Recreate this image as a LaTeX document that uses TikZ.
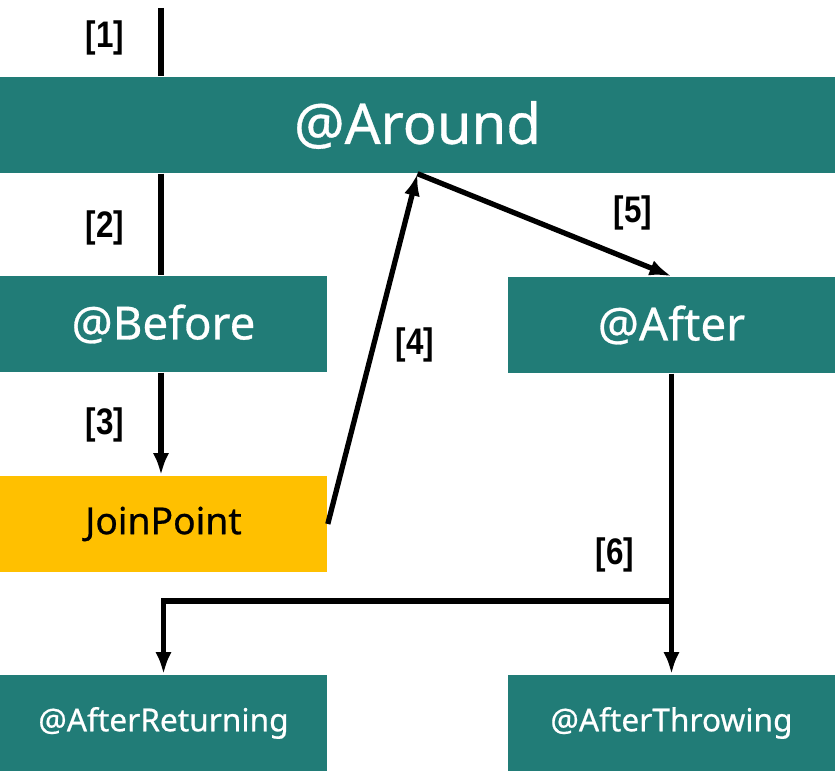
\documentclass[tikz,border=0pt]{standalone}
\usepackage{fontspec}
\setmainfont{Noto Sans}[FakeBold=0.6]
\newfontfamily\labelfont{Liberation Sans}[FakeStretch=0.85]
\usetikzlibrary{positioning, arrows.meta}
\definecolor{TealA}{HTML}{217C77}
\definecolor{GoldA}{HTML}{FFC000}
\tikzset{
  bx/.style={rectangle, inner sep=0pt, minimum width=3.27cm, minimum height=0.96cm,
             text=white, fill=TealA},
  adv/.style={bx, font=\fontsize{13}{15}\selectfont},
  jp/.style={bx, fill=GoldA, text=black, font=\fontsize{10.6}{13}\selectfont},
  ar/.style={-{Latex[length=2.2mm, width=1.6mm]}, line width=1.5pt},
  ln/.style={line width=1.5pt},
  nl/.style={font=\labelfont\bfseries\fontsize{10.5}{12}\selectfont, inner sep=0pt},
}

\begin{document}
\begin{tikzpicture}[x=0.01cm, y=-0.01cm]
  \useasboundingbox (0,0) rectangle (835,771);

  \node[bx, minimum width=8.35cm, font=\fontsize{16}{19}\selectfont] (around) at (417.5,125) {@Around};
  \node[adv] (before) at (163.5,324) {@Before};
  \node[adv] (after) at (671.5,325) {@After};
  \node[jp] (join) at (163.5,524) {JoinPoint};
  \node[bx, font=\fontsize{9}{11}\selectfont] (aret) at (163.5,723) {@AfterReturning};
  \node[bx, font=\fontsize{9}{11}\selectfont] (athr) at (671.5,723) {@AfterThrowing};

  \coordinate (start) at (161,8);
  \coordinate (split) at (671.5,601);

  \node[nl] at (105,38) {[1]};
  \node[nl] at (105,228) {[2]};
  \node[nl] at (105,425) {[3]};
  \node[nl] at (415,345) {[4]};
  \node[nl] at (633,213) {[5]};
  \node[nl] at (615,555) {[6]};

  \draw[ln] (start) -- (start |- around.north);
  \draw[ln] (start |- around.south) -- (start |- before.north);
  \draw[ar] (start |- before.south) -- (start |- join.north);
  \draw[ar] (join.east) -- (around.south);
  \draw[ar] (around.south) -- (after.north);
  \draw[ln] (after.south) -- (split);
  \draw[ar] (split) -| (aret.north);
  \draw[ar] (split) -- (athr.north);
\end{tikzpicture}
\end{document}
